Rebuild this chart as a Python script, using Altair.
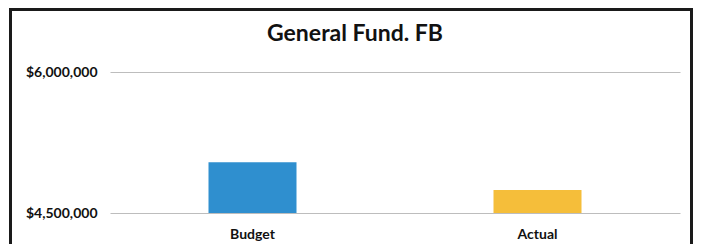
import altair as alt
import pandas as pd

categories = ["Budget", "Actual"]
values = [5040000, 4745000]
colors = ["#2F8FCF", "#F5BE3A"]
y_ticks = [4500000, 6000000]
base_value = 4500000

df = pd.DataFrame({"category": categories, "value": values, "base": [base_value] * len(categories)})

FONT = "Lato"

bars = alt.Chart(df).mark_bar(size=88).encode(
    x=alt.X("category:N", sort=categories,
            scale=alt.Scale(paddingInner=0, paddingOuter=0),
            axis=alt.Axis(title=None, labelAngle=0, domain=False, ticks=False,
                          labelPadding=14, labelFont=FONT, labelFontSize=14,
                          labelFontWeight="bold", labelColor="#111111")),
    y=alt.Y("value:Q",
            scale=alt.Scale(domain=[y_ticks[0], y_ticks[-1]], zero=False, nice=False),
            axis=alt.Axis(title=None, values=y_ticks, format="$,.0f", domain=False,
                          ticks=False, labelPadding=13, labelFont=FONT,
                          labelFontSize=14, labelFontWeight="bold",
                          labelColor="#111111", grid=True, gridColor="#bdbdbd",
                          gridWidth=1)),
    y2="base:Q",
    color=alt.Color("category:N", scale=alt.Scale(domain=categories, range=colors),
                    legend=None),
)

frame = alt.Chart(df).mark_rect(fill=None, stroke="#1a1a1a", strokeWidth=3).encode(
    x=alt.value(-99.5), x2=alt.value(581.5), y=alt.value(-62.5), y2=alt.value(220)
)

chart = alt.layer(bars, frame).properties(
    width=570,
    height=141,
    title=alt.TitleParams("General Fund. FB", font=FONT, fontSize=23, fontWeight="bold",
                          color="#111111", anchor="middle", dx=-40, offset=-56,
                          baseline="alphabetic"),
    autosize=alt.AutoSizeParams(type="none"),
    padding={"left": 102, "right": 13, "top": 64, "bottom": 31},
).configure(background="white").configure_view(strokeWidth=0, stroke="transparent")

chart.save("out.html", embed_options={"renderer": "svg", "actions": False})
